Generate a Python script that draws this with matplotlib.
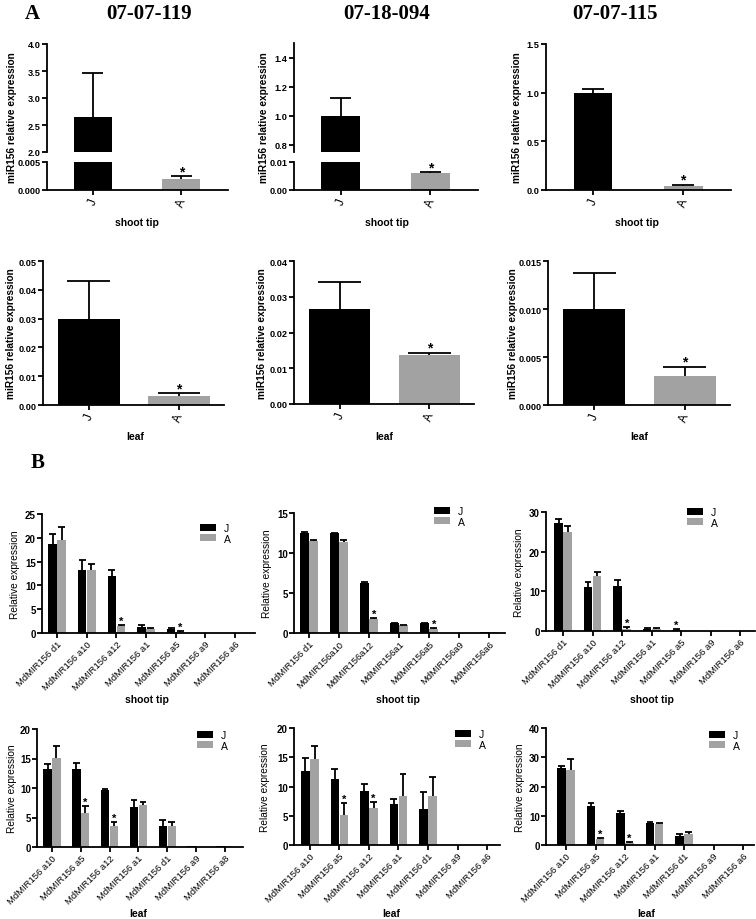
import matplotlib
matplotlib.use('Agg')
import matplotlib.pyplot as plt
from matplotlib.patches import Patch
from matplotlib.ticker import FormatStrFormatter
from matplotlib import font_manager
import numpy as np

plt.rcParams['font.family'] = ['Liberation Sans', 'DejaVu Sans']
plt.rcParams['axes.linewidth'] = 1.2

_names = {f.name for f in font_manager.fontManager.ttflist}
NARROW = ['Liberation Sans Narrow', 'Liberation Sans'] if 'Liberation Sans Narrow' in _names else ['Liberation Sans']

# ---------------- data: panel A ----------------
groups = ['J', 'A']
lines = ['07-07-119', '07-18-094', '07-07-115']
shoot_mean = [[2.65, 0.0020], [1.00, 0.0060], [1.00, 0.045]]
shoot_err = [[0.81, 0.0005], [0.12, 0.0003], [0.04, 0.010]]
shoot_sig = [[False, True], [False, True], [False, True]]
leaf_mean = [[0.030, 0.0030], [0.0267, 0.0136], [0.0100, 0.0030]]
leaf_err = [[0.013, 0.0011], [0.0073, 0.0008], [0.0038, 0.0010]]
leaf_sig = [[False, True], [False, True], [False, True]]

# ---------------- data: panel B ----------------
cats_shoot_1 = ['MdMIR156 d1', 'MdMIR156 a10', 'MdMIR156 a12', 'MdMIR156 a1',
                'MdMIR156 a5', 'MdMIR156 a9', 'MdMIR156 a6']
cats_shoot_2 = ['MdMIR156 d1', 'MdMIR156a10', 'MdMIR156a12', 'MdMIR156a1',
                'MdMIR156a5', 'MdMIR156a9', 'MdMIR156a6']
cats_shoot_3 = ['MdMIR156 d1', 'MdMIR156 a10', 'MdMIR156 a12', 'MdMIR156 a1',
                'MdMIR156 a5', 'MdMIR156 a9', 'MdMIR156 a6']
cats_leaf_1 = ['MdMIR156 a10', 'MdMIR156 a5', 'MdMIR156 a12', 'MdMIR156 a1',
               'MdMIR156 d1', 'MdMIR156 a9', 'MdMIR156 a8']
cats_leaf_2 = ['MdMIR156 a10', 'MdMIR156 a5', 'MdMIR156 a12', 'MdMIR156 a1',
               'MdMIR156 d1', 'MdMIR156 a9', 'MdMIR156 a6']
cats_leaf_3 = ['MdMIR156 a10', 'MdMIR156 a5', 'MdMIR156 a12', 'MdMIR156 a1',
               'MdMIR156 d1', 'MdMIR156 a9', 'MdMIR156 a6']

shoot1_J = [18.8, 13.3, 11.9, 1.3, 0.8, 0.02, 0.1]
shoot1_J_err = [2.0, 2.1, 1.4, 0.3, 0.15, 0.0, 0.0]
shoot1_A = [19.5, 13.3, 1.4, 0.9, 0.3, 0.02, 0.1]
shoot1_A_err = [2.8, 1.2, 0.3, 0.2, 0.2, 0.0, 0.0]
shoot1_sigJ = [False] * 7
shoot1_sigA = [False, False, True, False, True, False, False]

shoot2_J = [12.5, 12.5, 6.3, 1.25, 1.2, 0.03, 0.08]
shoot2_J_err = [0.1, 0.05, 0.05, 0.05, 0.1, 0.0, 0.0]
shoot2_A = [11.5, 11.4, 1.75, 1.0, 0.55, 0.03, 0.08]
shoot2_A_err = [0.15, 0.2, 0.1, 0.05, 0.07, 0.0, 0.0]
shoot2_sigJ = [False] * 7
shoot2_sigA = [False, False, True, False, True, False, False]

shoot3_J = [27.2, 11.0, 11.4, 0.6, 0.3, 0.02, 0.02]
shoot3_J_err = [1.0, 1.3, 1.5, 0.15, 0.1, 0.0, 0.0]
shoot3_A = [24.9, 13.9, 0.6, 0.6, 0.05, 0.02, 0.02]
shoot3_A_err = [1.6, 1.0, 0.3, 0.25, 0.0, 0.0, 0.0]
shoot3_sigJ = [False, False, False, False, True, False, False]
shoot3_sigA = [False, False, True, False, False, False, False]

leaf1_J = [13.3, 13.2, 9.7, 6.7, 3.6, 0.1, 0.1]
leaf1_J_err = [0.8, 1.0, 0.2, 1.3, 0.9, 0.0, 0.0]
leaf1_A = [15.1, 5.7, 3.6, 7.1, 3.6, 0.0, 0.1]
leaf1_A_err = [2.1, 1.2, 0.7, 0.5, 0.6, 0.0, 0.0]
leaf1_sigJ = [False] * 7
leaf1_sigA = [False, True, True, False, False, False, False]

leaf2_J = [12.6, 11.3, 9.2, 6.95, 6.2, 0.0, 0.05]
leaf2_J_err = [2.2, 1.7, 1.2, 0.95, 2.8, 0.0, 0.0]
leaf2_A = [14.7, 5.1, 6.3, 8.3, 8.4, 0.0, 0.1]
leaf2_A_err = [2.3, 2.1, 1.0, 3.8, 3.2, 0.0, 0.0]
leaf2_sigJ = [False] * 7
leaf2_sigA = [False, True, True, False, False, False, False]

leaf3_J = [26.2, 13.4, 10.8, 7.4, 3.2, 0.0, 0.0]
leaf3_J_err = [0.9, 1.0, 0.8, 0.4, 0.7, 0.0, 0.0]
leaf3_A = [25.7, 2.0, 0.8, 7.2, 3.8, 0.0, 0.0]
leaf3_A_err = [3.7, 0.4, 0.3, 0.4, 0.5, 0.0, 0.0]
leaf3_sigJ = [False] * 7
leaf3_sigA = [False, True, True, False, False, False, False]

# ---------------- layout helpers ----------------
W, H = 756, 920
fig = plt.figure(figsize=(W / 100, H / 100), dpi=100)


def rect(l, t, r, b):
    return [l / W, 1 - b / H, (r - l) / W, (b - t) / H]


def fx(x):
    return x / W


def fy(y):
    return 1 - y / H


J_COLOR = 'black'
A_COLOR = '#a2a2a2'
LW = 1.3


def style(ax, bottom=True):
    for s in ['top', 'right']:
        ax.spines[s].set_visible(False)
    ax.spines['left'].set_linewidth(LW)
    ax.spines['bottom'].set_linewidth(LW)
    if not bottom:
        ax.spines['bottom'].set_visible(False)
        ax.tick_params(axis='x', bottom=False, labelbottom=False)
    ax.tick_params(axis='both', length=3.5, width=LW, direction='out', pad=1.0)


def errbar(ax, x, m, e, cw, ylim):
    if e <= 0:
        return
    ax.vlines(x, m, m + e, color='black', lw=LW, zorder=3)
    ax.hlines(m + e, x - cw / 2, x + cw / 2, color='black', lw=LW, zorder=3)


def star(ax, x, y, ylim, size, dy):
    if ylim[0] <= y <= ylim[1]:
        ax.annotate('*', (x, y), xytext=(0, dy), textcoords='offset points',
                    ha='center', va='center', fontsize=size, fontweight='bold')


def draw_A(ax, means, errs, sigs, ylim, width, cw, xlim):
    x = np.arange(len(groups))
    ax.bar(x, means, width=width, color=[J_COLOR, A_COLOR], zorder=2)
    for xi, m, e, s in zip(x, means, errs, sigs):
        errbar(ax, xi, m, e, cw * width, ylim)
        if s:
            star(ax, xi, m + e, ylim, 10, 3.5)
    ax.set_ylim(*ylim)
    ax.set_xlim(*xlim)


def ytick_font(ax, size=6.6):
    for lab in ax.get_yticklabels():
        lab.set_fontweight('bold')
        lab.set_fontsize(size)
        lab.set_family(NARROW)


def xlab_A(ax):
    ax.set_xticks(np.arange(len(groups)))
    ax.set_xticklabels(groups, rotation=70, fontsize=8.5)


# ---------------- Panel A: shoot tip (top row) ----------------
fig.text(fx(32), fy(14), 'A', family=['Liberation Serif'], fontweight='bold',
         fontsize=15, ha='center', va='center')
title_x = [149, 387, 615]
for tx, t in zip(title_x, lines):
    fig.text(fx(tx), fy(14), t, family=['Liberation Serif'], fontweight='bold',
             fontsize=15, ha='center', va='center')

xlim_top = (-0.52, 1.53)
broken = [
    dict(upper=(47, 45, 228, 153), lower=(47, 163, 228, 191),
         uylim=(2.0, 4.0), uticks=[2.0, 2.5, 3.0, 3.5, 4.0], ufmt='%.1f',
         lylim=(0, 0.005), lticks=[0, 0.005], lfmt='%.3f'),
    dict(upper=(294, 44, 478, 153), lower=(294, 163, 478, 191),
         uylim=(0.75, 1.5), uticks=[0.8, 1.0, 1.2, 1.4], ufmt='%.1f',
         lylim=(0, 0.01), lticks=[0, 0.01], lfmt='%.2f'),
]
ylab_x_top = [12, 264, 517]
for i in range(2):
    cfg = broken[i]
    axu = fig.add_axes(rect(*cfg['upper']))
    axl = fig.add_axes(rect(*cfg['lower']))
    draw_A(axu, shoot_mean[i], shoot_err[i], shoot_sig[i], cfg['uylim'], 0.43, 0.55, xlim_top)
    draw_A(axl, shoot_mean[i], shoot_err[i], shoot_sig[i], cfg['lylim'], 0.43, 0.55, xlim_top)
    style(axu, bottom=False)
    style(axl)
    axu.set_yticks(cfg['uticks'])
    axu.yaxis.set_major_formatter(FormatStrFormatter(cfg['ufmt']))
    axl.set_yticks(cfg['lticks'])
    axl.yaxis.set_major_formatter(FormatStrFormatter(cfg['lfmt']))
    ytick_font(axu)
    ytick_font(axl)
    xlab_A(axl)

ax3 = fig.add_axes(rect(546, 45, 731, 191))
draw_A(ax3, shoot_mean[2], shoot_err[2], shoot_sig[2], (0, 1.5), 0.43, 0.55, xlim_top)
style(ax3)
ax3.set_yticks([0, 0.5, 1.0, 1.5])
ax3.yaxis.set_major_formatter(FormatStrFormatter('%.1f'))
ytick_font(ax3)
xlab_A(ax3)

for lx in ylab_x_top:
    fig.text(fx(lx), fy(118), 'miR156 relative expression', rotation=90,
             fontweight='bold', fontsize=7.3, ha='center', va='center')
for sx in [137, 387, 637]:
    fig.text(fx(sx), fy(223), 'shoot tip', fontweight='bold', fontsize=7.5,
             ha='center', va='center', family=NARROW)

# ---------------- Panel A: leaf (second row) ----------------
leaf_rects = [(43, 262, 224, 406), (294, 262, 474, 405), (548, 262, 730, 406)]
leaf_ylims = [(0, 0.05), (0, 0.04), (0, 0.015)]
leaf_ticks = [np.arange(0, 0.051, 0.01), np.arange(0, 0.041, 0.01),
              [0, 0.005, 0.010, 0.015]]
leaf_fmt = ['%.2f', '%.2f', '%.3f']
leaf_ylab_x = [11, 262, 513]
for i in range(3):
    ax = fig.add_axes(rect(*leaf_rects[i]))
    draw_A(ax, leaf_mean[i], leaf_err[i], leaf_sig[i], leaf_ylims[i], 0.68, 0.7, (-0.51, 1.5))
    style(ax)
    ax.set_yticks(leaf_ticks[i])
    ax.yaxis.set_major_formatter(FormatStrFormatter(leaf_fmt[i]))
    ytick_font(ax)
    xlab_A(ax)
    fig.text(fx(leaf_ylab_x[i]), fy(334), 'miR156 relative expression', rotation=90,
             fontweight='bold', fontsize=7.3, ha='center', va='center')
for sx in [135, 384, 639]:
    fig.text(fx(sx), fy(437), 'leaf', fontweight='bold', fontsize=7.5,
             ha='center', va='center', family=NARROW)

# ---------------- Panel B ----------------
fig.text(fx(38), fy(463), 'B', family=['Liberation Serif'], fontweight='bold',
         fontsize=15, ha='center', va='center')

BW = 0.29
OFF = 0.155


def draw_B(ax, cats, jm, je, am, ae, sj, sa, ylim, yticks, xlim):
    x = np.arange(len(cats))
    ax.bar(x - OFF, jm, width=BW, color=J_COLOR, zorder=2, label='J')
    ax.bar(x + OFF, am, width=BW, color=A_COLOR, zorder=2, label='A')
    for xi, m, e, s in zip(x - OFF, jm, je, sj):
        errbar(ax, xi, m, e, 0.8 * BW, ylim)
        if s:
            star(ax, xi, m + e, ylim, 8, 3)
    for xi, m, e, s in zip(x + OFF, am, ae, sa):
        errbar(ax, xi, m, e, 0.8 * BW, ylim)
        if s:
            star(ax, xi, m + e, ylim, 8, 3)
    ax.set_ylim(*ylim)
    ax.set_xlim(*xlim)
    ax.set_yticks(yticks)
    style(ax)
    ax.set_xticks(x)
    ax.set_xticklabels(cats, rotation=45, ha='right', rotation_mode='anchor',
                       fontsize=6.8)
    for lab in ax.get_yticklabels():
        lab.set_fontweight('bold')
        lab.set_fontsize(7)


def legend_B(ax, lx, ly):
    handles = [Patch(facecolor=J_COLOR, edgecolor='none', label='J'),
               Patch(facecolor=A_COLOR, edgecolor='none', label='A')]
    ax.legend(handles=handles, loc='upper left', bbox_to_anchor=(fx(lx), fy(ly)),
              bbox_transform=fig.transFigure, frameon=False, fontsize=7.5,
              handlelength=1.5, handleheight=0.65, labelspacing=0.05,
              handletextpad=0.8, borderpad=0, borderaxespad=0)


B_sets = [
    dict(r=(42, 515, 255, 634), cats=cats_shoot_1, jm=shoot1_J, je=shoot1_J_err,
         am=shoot1_A, ae=shoot1_A_err, sj=shoot1_sigJ, sa=shoot1_sigA,
         ylim=(0, 25), yt=[0, 5, 10, 15, 20, 25], xlim=(-0.51, 6.67), leg=(200, 524)),
    dict(r=(294, 514, 505, 634), cats=cats_shoot_2, jm=shoot2_J, je=shoot2_J_err,
         am=shoot2_A, ae=shoot2_A_err, sj=shoot2_sigJ, sa=shoot2_sigA,
         ylim=(0, 15), yt=[0, 5, 10, 15], xlim=(-0.5, 6.53), leg=(434, 507)),
    dict(r=(546, 513, 755, 632), cats=cats_shoot_3, jm=shoot3_J, je=shoot3_J_err,
         am=shoot3_A, ae=shoot3_A_err, sj=shoot3_sigJ, sa=shoot3_sigA,
         ylim=(0, 30), yt=[0, 10, 20, 30], xlim=(-0.58, 6.5), leg=(687, 508)),
    dict(r=(37, 730, 243, 848), cats=cats_leaf_1, jm=leaf1_J, je=leaf1_J_err,
         am=leaf1_A, ae=leaf1_A_err, sj=leaf1_sigJ, sa=leaf1_sigA,
         ylim=(0, 20), yt=[0, 5, 10, 15, 20], xlim=(-0.52, 6.63), leg=(197, 731)),
    dict(r=(294, 729, 500, 846), cats=cats_leaf_2, jm=leaf2_J, je=leaf2_J_err,
         am=leaf2_A, ae=leaf2_A_err, sj=leaf2_sigJ, sa=leaf2_sigA,
         ylim=(0, 20), yt=[0, 5, 10, 15, 20], xlim=(-0.54, 6.44), leg=(455, 730)),
    dict(r=(546, 729, 754, 846), cats=cats_leaf_3, jm=leaf3_J, je=leaf3_J_err,
         am=leaf3_A, ae=leaf3_A_err, sj=leaf3_sigJ, sa=leaf3_sigA,
         ylim=(0, 40), yt=[0, 10, 20, 30, 40], xlim=(-0.68, 6.37), leg=(709, 731)),
]
B_ylab_x = [15, 267, 519, 12, 265, 520]
for k, cfg in enumerate(B_sets):
    ax = fig.add_axes(rect(*cfg['r']))
    draw_B(ax, cfg['cats'], cfg['jm'], cfg['je'], cfg['am'], cfg['ae'],
           cfg['sj'], cfg['sa'], cfg['ylim'], cfg['yt'], cfg['xlim'])
    legend_B(ax, *cfg['leg'])
    l, t, r, b = cfg['r']
    fig.text(fx(B_ylab_x[k]), fy((t + b) / 2), 'Relative expression', rotation=90,
             fontsize=7.3, ha='center', va='center')

for sx in [147, 398, 652]:
    fig.text(fx(sx), fy(700), 'shoot tip', fontweight='bold', fontsize=7.5,
             ha='center', va='center')
for sx in [138, 391, 646]:
    fig.text(fx(sx), fy(914), 'leaf', fontweight='bold', fontsize=7.5,
             ha='center', va='center')

fig.savefig('out.png', dpi=100)
